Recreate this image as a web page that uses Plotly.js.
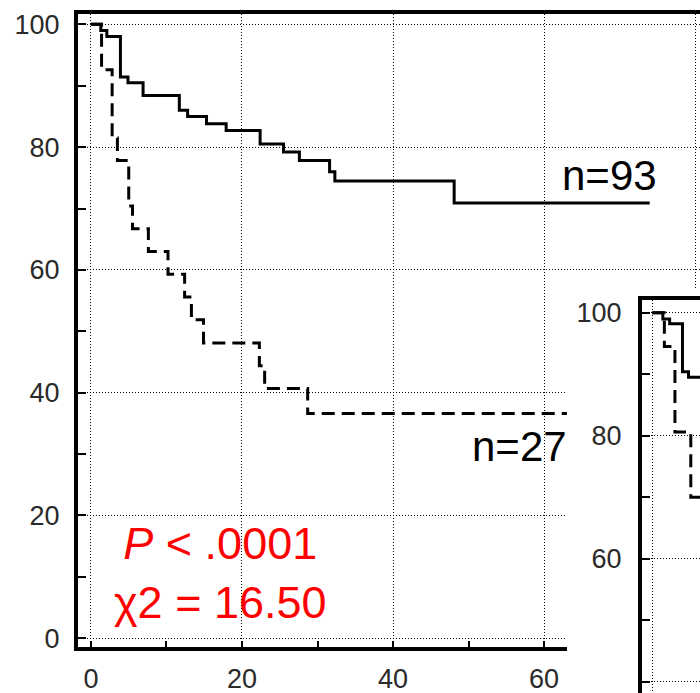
<!DOCTYPE html>
<html><head><meta charset="utf-8">
<script src="https://cdn.plot.ly/plotly-3.0.1.min.js"></script>
<style>html,body{margin:0;padding:0;background:#fff;} #chart{width:700px;height:693px;}</style>
</head><body><div id="chart"></div>
<script>
// Main panel: Kaplan-Meier curves (time in months, survival in %)
const mainSolidTime = [0, 1.3, 2.1, 3.9, 4.9, 6.9, 11.7, 12.8, 15.3, 17.9, 22.4, 25.5, 27.6, 31.6, 32.3, 48.1, 74.0];
const mainSolidSurv = [100, 99.0, 98.0, 91.4, 90.5, 88.4, 86.0, 85.0, 83.8, 82.7, 80.5, 79.2, 77.8, 76.0, 74.5, 70.9, 70.9];
const mainDashTime = [0, 1.4, 2.8, 3.5, 5.0, 5.5, 7.6, 10.2, 12.4, 13.3, 14.9, 22.3, 23.0, 28.7, 75.0];
const mainDashSurv = [100, 92.6, 81.5, 77.8, 70.4, 66.7, 63.0, 59.3, 55.6, 51.9, 48.1, 44.4, 40.7, 36.6, 36.6];

// Inset panel (partially visible)
const insetSolidTime = [0, 1.4, 2.3, 4.0, 4.8, 8.0];
const insetSolidSurv = [100, 99.0, 98.2, 90.4, 89.5, 89.5];
const insetDashTime = [0, 1.6, 3.0, 5.1, 8.0];
const insetDashSurv = [100, 94.5, 80.6, 70.0, 70.0];

const xTicks = [0, 20, 40, 60, 80];
const yTicks = [0, 20, 40, 60, 80, 100];
const labelHigh = "n=93";
const labelLow = "n=27";
const statText = "<i>P</i> &lt; .0001<br>χ2 = 16.50";

const W = 700, H = 693;
const FONT = "Liberation Sans, Arial, sans-serif";
const tickFont = {family: FONT, size: 27, color: '#2a2a2a'};
const solidLine = {color: '#000', width: 3, shape: 'hv'};
const dashLine = {color: '#000', width: 3, shape: 'hv', dash: '13px,7px'};

const traces = [
  {x: mainSolidTime, y: mainSolidSurv, mode: 'lines', line: solidLine, xaxis: 'x', yaxis: 'y', hoverinfo: 'skip'},
  {x: mainDashTime, y: mainDashSurv, mode: 'lines', line: dashLine, xaxis: 'x', yaxis: 'y', hoverinfo: 'skip'},
  {x: [], y: [], mode: 'lines', xaxis: 'x2', yaxis: 'y2', hoverinfo: 'skip'},
  {x: insetSolidTime, y: insetSolidSurv, mode: 'lines', line: solidLine, xaxis: 'x3', yaxis: 'y3', hoverinfo: 'skip'},
  {x: insetDashTime, y: insetDashSurv, mode: 'lines', line: dashLine, xaxis: 'x3', yaxis: 'y3', hoverinfo: 'skip'}
];

const gridStyle = {showgrid: true, gridcolor: '#000', gridwidth: 1, griddash: '1px,2px', zeroline: false};

const layout = {
  width: W, height: H,
  margin: {l: 0, r: 0, t: 0, b: 0},
  paper_bgcolor: '#fff', plot_bgcolor: '#fff',
  showlegend: false,
  xaxis: Object.assign({
    domain: [78 / W, 1], range: [-1.72, 80.66], anchor: 'y',
    tickvals: xTicks, ticktext: xTicks.map(String),
    ticks: 'inside', ticklen: 6, tickwidth: 2, tickcolor: '#000',
    minor: {dtick: 10, tick0: 0, ticks: 'inside', ticklen: 6, tickwidth: 2, tickcolor: '#000', showgrid: false},
    showline: true, linecolor: '#000', linewidth: 4, mirror: true,
    tickfont: tickFont, ticklabelstandoff: 5
  }, gridStyle),
  yaxis: Object.assign({
    domain: [(H - 647) / H, (H - 14) / H], range: [-1.42, 101.68], anchor: 'x',
    tickvals: yTicks, ticktext: yTicks.map(String),
    ticks: 'inside', ticklen: 8, tickwidth: 2, tickcolor: '#000',
    minor: {dtick: 10, tick0: 0, ticks: 'inside', ticklen: 8, tickwidth: 2, tickcolor: '#000', showgrid: false},
    showline: true, linecolor: '#000', linewidth: 4,
    tickfont: tickFont, ticklabelstandoff: 9
  }, gridStyle),
  xaxis2: {domain: [567 / W, 1], range: [0, 1], anchor: 'y2', showgrid: false, zeroline: false, showline: false, ticks: '', showticklabels: false},
  yaxis2: {domain: [0, (H - 288) / H], range: [0, 1], anchor: 'x2', showgrid: false, zeroline: false, showline: false, ticks: '', showticklabels: false},
  xaxis3: Object.assign({
    domain: [642 / W, 1], range: [-1.36, 6.32], anchor: 'y3', side: 'top',
    tickvals: [0], showticklabels: false, ticks: '',
    showline: true, linecolor: '#000', linewidth: 4
  }, gridStyle),
  yaxis3: Object.assign({
    domain: [0, (H - 300) / H], range: [38.16, 102.07], anchor: 'x3',
    tickvals: yTicks, ticktext: yTicks.map(String),
    ticks: 'inside', ticklen: 8, tickwidth: 2, tickcolor: '#000',
    minor: {dtick: 10, tick0: 0, ticks: 'inside', ticklen: 8, tickwidth: 2, tickcolor: '#000', showgrid: false},
    showline: true, linecolor: '#000', linewidth: 4,
    tickfont: tickFont, ticklabelstandoff: 11
  }, gridStyle),
  annotations: [
    {text: labelHigh, x: 62.1, y: 75.4, xref: 'x', yref: 'y', xanchor: 'left', yanchor: 'middle', showarrow: false,
     font: {family: FONT, size: 42, color: '#000'}},
    {text: labelLow, x: 50.2, y: 31.2, xref: 'x', yref: 'y', xanchor: 'left', yanchor: 'middle', showarrow: false,
     font: {family: FONT, size: 42, color: '#000'}},
    {text: statText, x: 17.1, y: 10.6, xref: 'x', yref: 'y', xanchor: 'center', yanchor: 'middle', align: 'center', showarrow: false,
     font: {family: FONT, size: 45, color: '#ff0000'}}
  ]
};

Plotly.newPlot('chart', traces, layout, {displayModeBar: false, staticPlot: true});
</script>
</body></html>
